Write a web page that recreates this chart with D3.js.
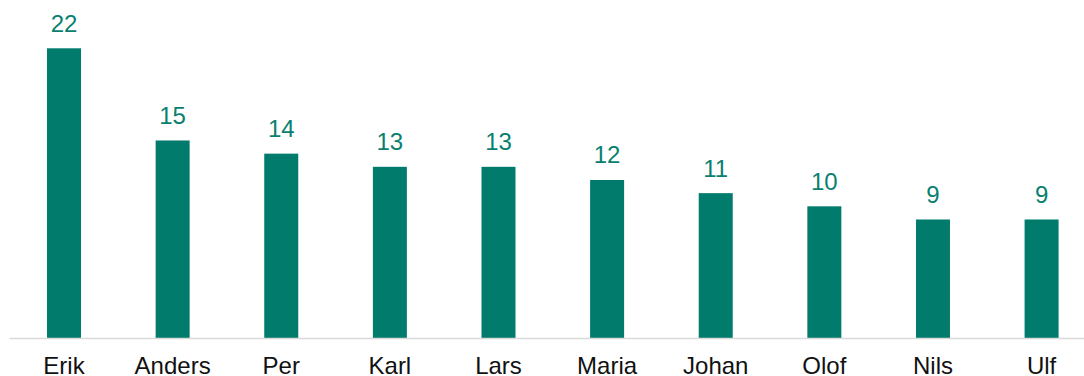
<!DOCTYPE html>
<html>
<head>
<meta charset="utf-8">
<script src="https://cdn.jsdelivr.net/npm/d3@7"></script>
<style>
  html, body { margin: 0; padding: 0; background: #fff; overflow: hidden; }
  svg { display: block; font-family: Arial, "Liberation Sans", sans-serif; }
</style>
</head>
<body>
<svg id="chart" width="1084" height="376"></svg>
<script>
// Most common names and their counts
const names = ["Erik", "Anders", "Per", "Karl", "Lars", "Maria", "Johan", "Olof", "Nils", "Ulf"];
const counts = [22, 15, 14, 13, 13, 12, 11, 10, 9, 9];

const svg = d3.select("#chart");
const baseY = 338;

const x = d3.scaleBand()
  .domain(names)
  .range([9.7, 1095.9])
  .paddingInner(0.687)
  .paddingOuter(0.3435);

const y = d3.scaleLinear()
  .domain([0, 22])
  .range([baseY, 48.3]);

const data = names.map((n, i) => ({ name: n, value: counts[i] }));

// bars
svg.append("g")
  .selectAll("rect")
  .data(data)
  .join("rect")
  .attr("x", d => x(d.name))
  .attr("y", d => y(d.value))
  .attr("width", x.bandwidth())
  .attr("height", d => baseY - y(d.value))
  .attr("fill", "#007b6c");

// value labels above the bars
svg.append("g")
  .selectAll("text")
  .data(data)
  .join("text")
  .attr("x", d => x(d.name) + x.bandwidth() / 2)
  .attr("y", d => y(d.value) - 16.6)
  .attr("text-anchor", "middle")
  .attr("font-size", 24)
  .attr("fill", "#0a7f70")
  .text(d => d.value);

// category axis
const axis = svg.append("g")
  .attr("transform", `translate(0,${baseY})`)
  .call(d3.axisBottom(x).tickSize(0).tickPadding(0).tickSizeOuter(0));

axis.select(".domain")
  .attr("stroke", "#d9d9d9")
  .attr("stroke-width", 1.5)
  .attr("d", `M9.7,0.5H1095.9`);

axis.selectAll(".tick text")
  .attr("dy", null)
  .attr("y", 36)
  .attr("font-size", 24)
  .attr("font-family", "Arial, 'Liberation Sans', sans-serif")
  .attr("fill", "#111");
</script>
</body>
</html>
